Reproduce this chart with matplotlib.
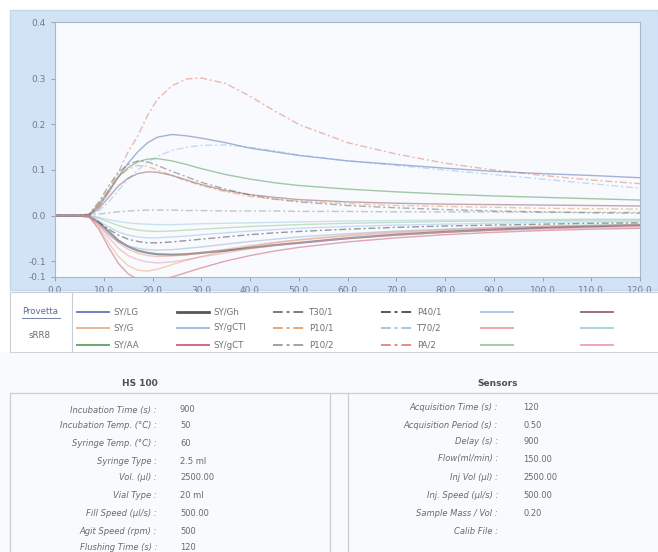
import matplotlib
matplotlib.use("Agg")
import matplotlib.pyplot as plt
from matplotlib.ticker import FormatStrFormatter
from matplotlib.patches import Rectangle
from matplotlib.lines import Line2D

# ---- sensor responses (time in s, relative response) ----
t = [0, 4, 7, 9, 11, 13, 15, 17, 19, 21, 24, 27, 30, 35, 40, 45, 50, 60, 70, 80, 90, 100, 110, 120]

sy_lg   = [0, 0, 0.002, 0.02, 0.05, 0.085, 0.115, 0.14, 0.16, 0.172, 0.178, 0.175, 0.17, 0.16, 0.148, 0.14, 0.132, 0.12, 0.112, 0.104, 0.097, 0.092, 0.088, 0.083]
sy_g    = [0, 0, -0.002, -0.025, -0.06, -0.09, -0.11, -0.12, -0.122, -0.118, -0.108, -0.098, -0.09, -0.078, -0.068, -0.06, -0.054, -0.045, -0.038, -0.033, -0.029, -0.026, -0.024, -0.022]
sy_aa   = [0, 0, 0.002, 0.025, 0.055, 0.085, 0.105, 0.118, 0.124, 0.125, 0.12, 0.112, 0.103, 0.09, 0.08, 0.072, 0.066, 0.058, 0.052, 0.047, 0.043, 0.04, 0.037, 0.034]
sy_gh   = [0, 0, -0.002, -0.015, -0.035, -0.055, -0.068, -0.077, -0.082, -0.085, -0.086, -0.085, -0.082, -0.077, -0.071, -0.065, -0.06, -0.05, -0.042, -0.036, -0.031, -0.027, -0.024, -0.021]
sy_gctl = [0, 0, -0.002, -0.02, -0.042, -0.058, -0.067, -0.072, -0.075, -0.076, -0.075, -0.072, -0.069, -0.063, -0.057, -0.052, -0.047, -0.04, -0.034, -0.03, -0.026, -0.023, -0.021, -0.019]
sy_gct  = [0, 0, -0.003, -0.03, -0.07, -0.105, -0.128, -0.14, -0.145, -0.143, -0.135, -0.125, -0.115, -0.1, -0.088, -0.078, -0.07, -0.058, -0.049, -0.042, -0.037, -0.033, -0.03, -0.028]
t30_1   = [0, 0, 0.003, 0.03, 0.065, 0.095, 0.112, 0.12, 0.118, 0.11, 0.097, 0.085, 0.073, 0.058, 0.045, 0.036, 0.03, 0.022, 0.017, 0.013, 0.01, 0.008, 0.006, 0.005]
p10_1   = [0, 0, 0.002, 0.025, 0.055, 0.085, 0.102, 0.11, 0.108, 0.1, 0.088, 0.076, 0.066, 0.052, 0.042, 0.036, 0.032, 0.026, 0.022, 0.02, 0.018, 0.016, 0.015, 0.014]
p10_2   = [0, 0, 0, 0.003, 0.006, 0.008, 0.01, 0.011, 0.012, 0.012, 0.012, 0.011, 0.011, 0.01, 0.01, 0.01, 0.009, 0.009, 0.008, 0.008, 0.008, 0.007, 0.007, 0.007]
p40_1   = [0, 0, -0.001, -0.015, -0.03, -0.043, -0.052, -0.057, -0.06, -0.06, -0.058, -0.055, -0.052, -0.047, -0.042, -0.038, -0.035, -0.03, -0.026, -0.023, -0.021, -0.019, -0.017, -0.016]
t70_2   = [0, 0, 0, 0.01, 0.03, 0.055, 0.08, 0.1, 0.118, 0.13, 0.143, 0.15, 0.154, 0.155, 0.15, 0.142, 0.133, 0.12, 0.11, 0.1, 0.09, 0.08, 0.07, 0.06]
pa_2    = [0, 0, 0.002, 0.02, 0.055, 0.095, 0.14, 0.175, 0.22, 0.255, 0.285, 0.3, 0.302, 0.29, 0.262, 0.23, 0.2, 0.16, 0.135, 0.115, 0.1, 0.088, 0.078, 0.07]
s13     = [0, 0, -0.001, -0.012, -0.025, -0.036, -0.043, -0.047, -0.049, -0.049, -0.047, -0.045, -0.042, -0.038, -0.034, -0.031, -0.028, -0.024, -0.021, -0.019, -0.017, -0.015, -0.014, -0.013]
s14     = [0, 0, -0.002, -0.018, -0.04, -0.06, -0.074, -0.083, -0.088, -0.09, -0.089, -0.086, -0.082, -0.074, -0.066, -0.059, -0.053, -0.043, -0.036, -0.031, -0.027, -0.024, -0.022, -0.02]
s15     = [0, 0, 0, -0.006, -0.014, -0.022, -0.028, -0.032, -0.034, -0.035, -0.034, -0.032, -0.03, -0.027, -0.024, -0.022, -0.02, -0.017, -0.015, -0.013, -0.012, -0.011, -0.01, -0.01]
s16     = [0, 0, 0, 0.015, 0.04, 0.065, 0.082, 0.092, 0.096, 0.095, 0.088, 0.078, 0.068, 0.055, 0.046, 0.04, 0.035, 0.03, 0.027, 0.025, 0.024, 0.023, 0.022, 0.021]
s17     = [0, 0, 0, -0.004, -0.009, -0.013, -0.016, -0.018, -0.019, -0.02, -0.02, -0.019, -0.018, -0.017, -0.016, -0.015, -0.014, -0.012, -0.011, -0.01, -0.009, -0.009, -0.008, -0.008]
s18     = [0, 0, -0.002, -0.02, -0.048, -0.072, -0.088, -0.097, -0.102, -0.104, -0.102, -0.097, -0.091, -0.082, -0.073, -0.066, -0.06, -0.05, -0.043, -0.037, -0.033, -0.03, -0.027, -0.025]

sensor_names = ["SY/LG", "SY/G", "SY/AA", "SY/Gh", "SY/gCTl", "SY/gCT",
                "T30/1", "P10/1", "P10/2", "P40/1", "T70/2", "PA/2",
                "", "", "", "", "", ""]
sensor_data = [sy_lg, sy_g, sy_aa, sy_gh, sy_gctl, sy_gct,
               t30_1, p10_1, p10_2, p40_1, t70_2, pa_2,
               s13, s14, s15, s16, s17, s18]
colors = ["#3a5aa8", "#e0a070", "#3a8a3a", "#202020", "#7fa8d8", "#c83a5a",
          "#505050", "#e08a4a", "#7a8a7a", "#202020", "#80b4e4", "#d86a50",
          "#8cb8e4", "#e89080", "#80c080", "#804050", "#90c4d8", "#e888a8"]
DASH = (0, (5, 2, 1.5, 2))
styles = ["-"] * 6 + [DASH] * 6 + ["-"] * 6
widths = [1.0, 1.0, 1.0, 1.6, 1.0, 1.0] + [1.0] * 12

x_ticks = [0, 10, 20, 30, 40, 50, 60, 70, 80, 90, 100, 110, 120]
y_ticks = [-0.135, -0.1, 0.0, 0.1, 0.2, 0.3, 0.425]

hs_labels = ["Incubation Time (s) :", "Incubation Temp. (°C) :", "Syringe Temp. (°C) :",
             "Syringe Type :", "Vol. (µl) :", "Vial Type :", "Fill Speed (µl/s) :",
             "Agit Speed (rpm) :", "Flushing Time (s) :"]
hs_values = ["900", "50", "60", "2.5 ml", "2500.00", "20 ml", "500.00", "500", "120"]
sn_labels = ["Acquisition Time (s) :", "Acquisition Period (s) :", "Delay (s) :",
             "Flow(ml/min) :", "Inj Vol (µl) :", "Inj. Speed (µl/s) :",
             "Sample Mass / Vol :", "Calib File :"]
sn_values = ["120", "0.50", "900", "150.00", "2500.00", "500.00", "0.20", ""]

W, H = 658, 552
fig = plt.figure(figsize=(W / 100, H / 100), dpi=100)
fig.patch.set_facecolor("white")

def fx(px):
    return px / W

def fy(py):
    return 1 - py / H

# light blue panel behind the chart
fig.patches.append(Rectangle((fx(10), fy(290)), fx(648), 280 / H, transform=fig.transFigure,
                             facecolor="#d3e3f6", edgecolor="#c4d6ee", lw=1, zorder=-5))
# off-white settings area
fig.patches.append(Rectangle((0, 0), 1, fy(352), transform=fig.transFigure,
                             facecolor="#f9fafc", edgecolor="none", zorder=-5))

ax = fig.add_axes([fx(55), fy(277), fx(585), 255 / H])
ax.set_facecolor("#f8fafd")
for i, (name, ys) in enumerate(zip(sensor_names, sensor_data)):
    ax.plot(t, ys, color=colors[i], ls=styles[i], lw=widths[i], alpha=0.45)
ax.set_xlim(0, 120)
ax.set_ylim(-0.135, 0.425)
ax.set_xticks(x_ticks)
ax.set_yticks(y_ticks)
ax.xaxis.set_major_formatter(FormatStrFormatter("%.1f"))
ax.yaxis.set_major_formatter(FormatStrFormatter("%.1f"))
ax.tick_params(labelsize=6.5, colors="#8a96aa", labelcolor="#6f7b90", length=3, width=0.6)
for sp in ax.spines.values():
    sp.set_color("#a9b5c8")
    sp.set_linewidth(0.8)

# overlay in pixel coordinates for legend grid and settings tables
ov = fig.add_axes([0, 0, 1, 1])
ov.set_xlim(0, W)
ov.set_ylim(H, 0)
ov.axis("off")
ov.patch.set_alpha(0)

grid = "#c9cdd4"
ov.plot([10, 658], [292, 292], color=grid, lw=0.8)
ov.plot([10, 658], [352, 352], color=grid, lw=0.6)
ov.plot([10, 10], [292, 352], color=grid, lw=0.8)
ov.plot([72, 72], [292, 352], color=grid, lw=0.8)
ov.text(40, 312, "Provetta", fontsize=6.2, color="#5a6d90", ha="center", va="center")
ov.plot([22, 60], [318, 318], color="#5a6d90", lw=0.6)
ov.text(40, 336, "sRR8", fontsize=6.2, color="#6a6a6a", ha="center", va="center")

col_x = [77, 177, 273, 381, 481, 581]
row_y = [312, 328, 345]
for i, name in enumerate(sensor_names):
    c, r = divmod(i, 3)
    x0 = col_x[c]
    ov.add_line(Line2D([x0, x0 + 32], [row_y[r], row_y[r]], color=colors[i],
                       ls=styles[i], lw=widths[i] + 0.4, alpha=0.75))
    if name:
        ov.text(x0 + 36, row_y[r], name, fontsize=6.2, color="#707070", va="center")

# settings tables
ov.plot([10, 658], [393, 393], color=grid, lw=0.9)
ov.plot([10, 10], [393, 552], color=grid, lw=0.9)
ov.plot([330, 330], [393, 552], color=grid, lw=0.9)
ov.plot([348, 348], [393, 552], color=grid, lw=0.9)
ov.text(140, 384, "HS 100", fontsize=6.5, weight="bold", color="#505050", ha="center", va="center")
ov.text(498, 384, "Sensors", fontsize=6.5, weight="bold", color="#505050", ha="center", va="center")

hs_rows = [410, 426, 443, 461, 478, 496, 513, 531, 547]
for y, lab, val in zip(hs_rows, hs_labels, hs_values):
    ov.text(157, y, lab, fontsize=6, color="#6a6a6a", ha="right", va="center", style="italic")
    ov.text(180, y, val, fontsize=6, color="#6a6a6a", ha="left", va="center")

sn_rows = [408, 425, 442, 459, 478, 495, 513, 532]
for y, lab, val in zip(sn_rows, sn_labels, sn_values):
    ov.text(498, y, lab, fontsize=6, color="#6a6a6a", ha="right", va="center", style="italic")
    ov.text(523, y, val, fontsize=6, color="#6a6a6a", ha="left", va="center")

fig.savefig("out.png", dpi=100, facecolor=fig.get_facecolor())
